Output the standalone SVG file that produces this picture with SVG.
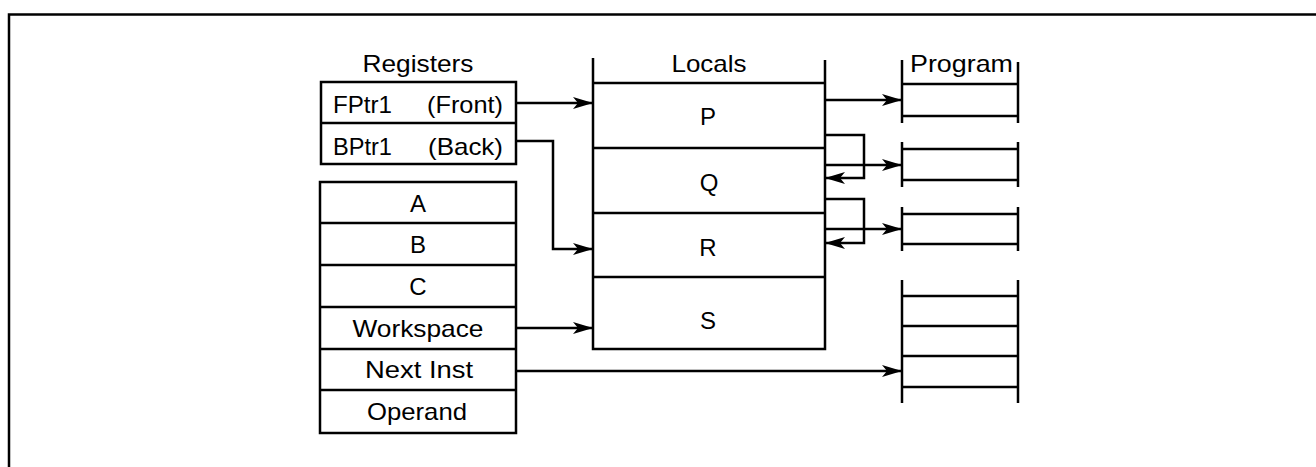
<svg xmlns="http://www.w3.org/2000/svg" width="1316" height="467" viewBox="0 0 1316 467">
<defs>
<style>
.ln{fill:none;stroke:#000;stroke-width:2.5}
.bx{fill:#fff;stroke:#000;stroke-width:2.5}
.t{font-family:"Liberation Sans",Arial,sans-serif;font-size:24px;fill:#000}
.c{text-anchor:middle}
</style>
<marker id="ah" viewBox="0 0 20 12" refX="20" refY="6" markerWidth="20" markerHeight="12" markerUnits="userSpaceOnUse" orient="auto">
<path d="M0,0 L20,6 L0,12 L5,6 Z" fill="#000"/>
</marker>
</defs>
<rect width="1316" height="467" fill="#fff"/>
<g id="frame"><path class="ln" d="M9,467 V14.5 H1316" stroke-width="3"/></g>

<g id="registers">
<text class="t c" x="418" y="72" textLength="111" lengthAdjust="spacingAndGlyphs">Registers</text>
<rect class="bx" x="321" y="82" width="195" height="82"/>
<line class="ln" x1="321" y1="123" x2="516" y2="123"/>
<text class="t" x="333" y="113" textLength="59" lengthAdjust="spacingAndGlyphs">FPtr1</text>
<text class="t" x="427" y="113" textLength="76" lengthAdjust="spacingAndGlyphs">(Front)</text>
<text class="t" x="333" y="155" textLength="59" lengthAdjust="spacingAndGlyphs">BPtr1</text>
<text class="t" x="428" y="155" textLength="75" lengthAdjust="spacingAndGlyphs">(Back)</text>
</g>

<g id="stack">
<rect class="bx" x="320" y="182" width="196" height="251"/>
<line class="ln" x1="320" y1="223" x2="516" y2="223"/>
<line class="ln" x1="320" y1="265" x2="516" y2="265"/>
<line class="ln" x1="320" y1="307" x2="516" y2="307"/>
<line class="ln" x1="320" y1="349" x2="516" y2="349"/>
<line class="ln" x1="320" y1="390" x2="516" y2="390"/>
<text class="t c" x="418" y="212">A</text>
<text class="t c" x="418" y="253">B</text>
<text class="t c" x="418" y="295">C</text>
<text class="t c" x="418" y="337" textLength="131" lengthAdjust="spacingAndGlyphs">Workspace</text>
<text class="t c" x="419" y="378" textLength="108" lengthAdjust="spacingAndGlyphs">Next Inst</text>
<text class="t c" x="417" y="420" textLength="100" lengthAdjust="spacingAndGlyphs">Operand</text>
</g>

<g id="locals">
<text class="t c" x="709" y="72" textLength="75" lengthAdjust="spacingAndGlyphs">Locals</text>
<path class="ln" d="M593,58 V349 H825 V60"/>
<line class="ln" x1="593" y1="83" x2="825" y2="83"/>
<line class="ln" x1="593" y1="148" x2="825" y2="148"/>
<line class="ln" x1="593" y1="213" x2="825" y2="213"/>
<line class="ln" x1="593" y1="277" x2="825" y2="277"/>
<text class="t c" x="708" y="125">P</text>
<text class="t c" x="709" y="191">Q</text>
<text class="t c" x="708" y="256">R</text>
<text class="t c" x="708" y="329">S</text>
</g>

<g id="program">
<text class="t" x="910" y="72" textLength="103" lengthAdjust="spacingAndGlyphs">Program</text>
<line class="ln" x1="902" y1="60" x2="902" y2="123"/>
<line class="ln" x1="1018" y1="62" x2="1018" y2="123"/>
<line class="ln" x1="902" y1="84" x2="1018" y2="84"/>
<line class="ln" x1="902" y1="116" x2="1018" y2="116"/>

<line class="ln" x1="902" y1="142" x2="902" y2="187"/>
<line class="ln" x1="1018" y1="142" x2="1018" y2="187"/>
<line class="ln" x1="902" y1="149" x2="1018" y2="149"/>
<line class="ln" x1="902" y1="180" x2="1018" y2="180"/>

<line class="ln" x1="902" y1="207" x2="902" y2="251"/>
<line class="ln" x1="1018" y1="207" x2="1018" y2="251"/>
<line class="ln" x1="902" y1="214" x2="1018" y2="214"/>
<line class="ln" x1="902" y1="244" x2="1018" y2="244"/>

<line class="ln" x1="902" y1="280" x2="902" y2="403"/>
<line class="ln" x1="1018" y1="280" x2="1018" y2="403"/>
<line class="ln" x1="902" y1="296" x2="1018" y2="296"/>
<line class="ln" x1="902" y1="326" x2="1018" y2="326"/>
<line class="ln" x1="902" y1="356" x2="1018" y2="356"/>
<line class="ln" x1="902" y1="387" x2="1018" y2="387"/>
</g>

<g id="connectors">
<path class="ln" d="M516,103 H593" marker-end="url(#ah)"/>
<path class="ln" d="M516,141 H553 V249 H593" marker-end="url(#ah)"/>
<path class="ln" d="M516,328 H593" marker-end="url(#ah)"/>
<path class="ln" d="M516,371 H902" marker-end="url(#ah)"/>
<path class="ln" d="M825,100 H902" marker-end="url(#ah)"/>
<path class="ln" d="M825,165 H902" marker-end="url(#ah)"/>
<path class="ln" d="M825,229 H902" marker-end="url(#ah)"/>
<path class="ln" d="M825,135 H864 V178 H825" marker-end="url(#ah)"/>
<path class="ln" d="M825,199 H864 V243 H825" marker-end="url(#ah)"/>
</g>
</svg>
